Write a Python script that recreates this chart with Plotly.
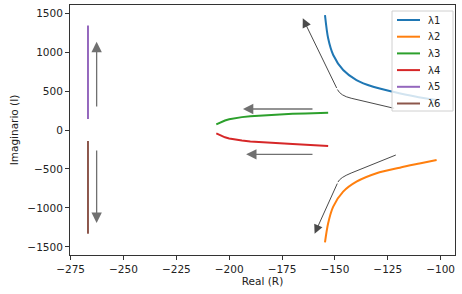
import plotly.graph_objects as go

# ---- data ----
l1_x = [-154.7, -153.2, -150.8, -146.1, -139.8, -131.9, -122.5, -112.0, -101.9]
l1_y = [1474, 1176, 962, 769, 641, 555, 491, 430, 385]
l2_x = [-154.7, -153.2, -150.8, -146.1, -139.8, -130.3, -119.3, -110.0, -101.9]
l2_y = [-1440, -1196, -983, -791, -663, -555, -483, -430, -385]
l3_x = [-206.1, -204, -202, -200, -198, -194, -190, -186, -182, -176, -170, -164, -158, -153.2]
l3_y = [73, 103, 122, 137, 149, 165, 176, 184, 191, 200, 207, 213, 218, 222]
l4_x = [-206.1, -204, -202, -200, -198, -194, -190, -186, -182, -176, -170, -164, -158, -153.2]
l4_y = [-43, -74, -94, -108, -119, -135, -146, -155, -162, -171, -179, -188, -197, -205]
l5_x = [-266.8, -266.8]
l5_y = [141, 1340]
l6_x = [-266.8, -266.8]
l6_y = [-141, -1330]

names = ["λ1", "λ2", "λ3", "λ4", "λ5", "λ6"]
colors = ["#1f77b4", "#ff7f0e", "#2ca02c", "#d62728", "#9467bd", "#8c564b"]
series = [(l1_x, l1_y), (l2_x, l2_y), (l3_x, l3_y), (l4_x, l4_y), (l5_x, l5_y), (l6_x, l6_y)]
shapes_kind = ["spline", "spline", "linear", "linear", "linear", "linear"]

# straight arrows: (tail_x, tail_y, head_x, head_y)
straight_arrows = [
    (-262.7, 282, -262.7, 1132),
    (-262.7, -244, -262.7, -1192),
    (-159.9, 269, -193.5, 269),
    (-159.9, -312, -192.0, -312),
]
# bent arrows: start, corner, head
bent_arrows = [
    ((-122.0, 278), (-147.4, 440), (-165.2, 1432)),
    ((-121.2, -321), (-147.6, -610), (-159.6, -1330)),
]

W, H = 462, 294
ML, MR, MT, MB = 70, 7, 5, 39
PW, PH = W - ML - MR, H - MT - MB


def px_to_paper(px, py):
    return (px - ML) / PW, (H - MB - py) / PH


fig = go.Figure()
for (xs, ys), n, c, sk in zip(series, names, colors, shapes_kind):
    line = dict(color=c, width=2, shape=sk)
    if sk == "spline":
        line["smoothing"] = 0.8
    fig.add_trace(go.Scatter(x=xs, y=ys, mode="lines", name=n, line=line,
                             showlegend=False))

ann = []
for tx, ty, hx, hy in straight_arrows:
    ann.append(dict(x=hx, y=hy, ax=tx, ay=ty, xref="x", yref="y", axref="x", ayref="y",
                    showarrow=True, arrowhead=2, arrowsize=1.6, arrowwidth=1.3,
                    arrowcolor="#707070", standoff=0, text=""))
shapes = []
for (sx, sy), (cx, cy), (hx, hy) in bent_arrows:
    px = cx + (sx - cx) * 0.2
    py = cy + (sy - cy) * 0.2
    qx = cx + (hx - cx) * 0.08
    qy = cy + (hy - cy) * 0.08
    shapes.append(dict(type="path", xref="x", yref="y",
                       path=f"M {sx},{sy} L {px},{py} Q {cx},{cy} {qx},{qy}",
                       line=dict(color="#4a4a4a", width=1)))
    ann.append(dict(x=hx, y=hy, ax=qx, ay=qy, xref="x", yref="y", axref="x", ayref="y",
                    showarrow=True, arrowhead=2, arrowsize=1.8, arrowwidth=1,
                    arrowcolor="#4a4a4a", standoff=0, text=""))

# legend box (matplotlib style), drawn in paper coordinates
bx0, by0 = px_to_paper(392, 111)
bx1, by1 = px_to_paper(453, 11)
shapes.append(dict(type="rect", xref="paper", yref="paper", x0=bx0, y0=by0, x1=bx1, y1=by1,
                   fillcolor="rgba(255,255,255,0.8)", line=dict(color="#d0d0d0", width=1),
                   layer="above"))
for i, (n, c) in enumerate(zip(names, colors)):
    ry = 20 + i * 16.7
    lx0, ly = px_to_paper(397, ry)
    lx1, _ = px_to_paper(420, ry)
    shapes.append(dict(type="line", xref="paper", yref="paper", x0=lx0, x1=lx1, y0=ly, y1=ly,
                       line=dict(color=c, width=2), layer="above"))
    tx, _ = px_to_paper(426, ry)
    ann.append(dict(x=tx, y=ly, xref="paper", yref="paper", text=n, showarrow=False,
                    xanchor="left", yanchor="middle", font=dict(size=10, color="#222")))

axis_common = dict(showgrid=False, zeroline=False, showline=True, mirror=True,
                   linecolor="#333333", linewidth=1, ticks="outside", ticklen=4,
                   tickcolor="#333333", tickfont=dict(size=10.5, color="#222"))

fig.update_layout(
    width=W, height=H,
    margin=dict(l=ML, r=MR, t=MT, b=MB),
    paper_bgcolor="white", plot_bgcolor="white",
    font=dict(family="DejaVu Sans", size=10.5, color="#222"),
    xaxis=dict(range=[-275.3, -93.2], tickvals=[-275, -250, -225, -200, -175, -150, -125, -100],
               ticktext=["−275", "−250", "−225", "−200", "−175", "−150", "−125", "−100"],
               title=dict(text="Real (R)", standoff=4, font=dict(size=10.5)), **axis_common),
    yaxis=dict(range=[-1603, 1603], tickvals=[-1500, -1000, -500, 0, 500, 1000, 1500],
               ticktext=["−1500", "−1000", "−500", "0", "500", "1000", "1500"],
               title=dict(text="Imaginario (I)", standoff=6, font=dict(size=10.5)), **axis_common),
    annotations=ann, shapes=shapes, showlegend=False,
)
fig.write_html("out.html", config={"displayModeBar": False},
               post_script="document.body.style.margin='0';document.body.style.overflow='hidden';")
